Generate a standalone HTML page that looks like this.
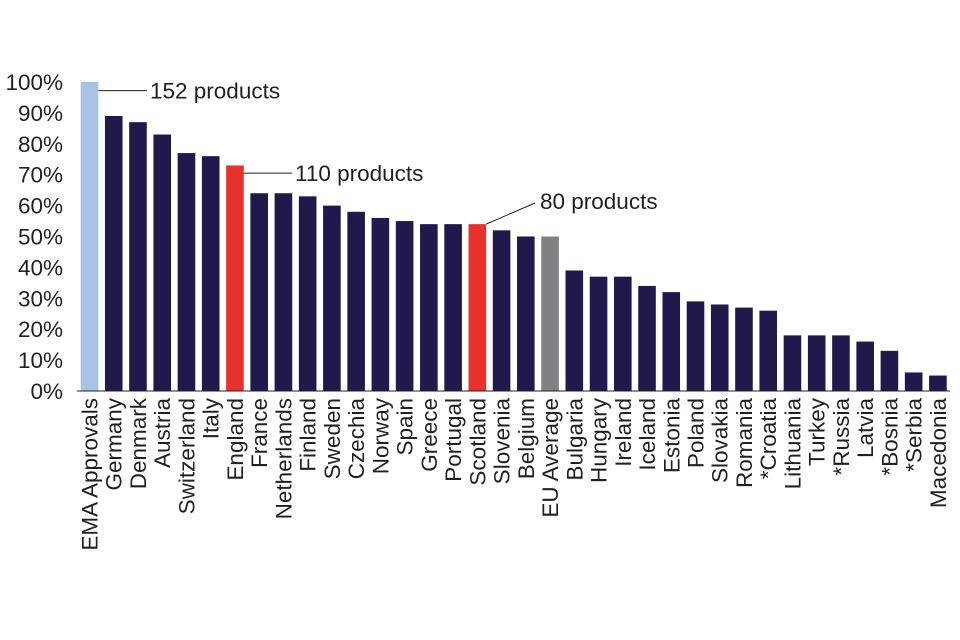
<!DOCTYPE html>
<html><head><meta charset="utf-8"><style>
html,body{margin:0;padding:0;background:#fff}
svg{display:block;font-family:"Liberation Sans",Arial,sans-serif}
</style></head><body>
<svg id="chart" width="960" height="640" viewBox="0 0 960 640"></svg>
<script>
const categories=["EMA Approvals","Germany","Denmark","Austria","Switzerland","Italy","England","France","Netherlands","Finland","Sweden","Czechia","Norway","Spain","Greece","Portugal","Scotland","Slovenia","Belgium","EU Average","Bulgaria","Hungary","Ireland","Iceland","Estonia","Poland","Slovakia","Romania","*Croatia","Lithuania","Turkey","*Russia","Latvia","*Bosnia","*Serbia","Macedonia"];
const values=[100,89,87,83,77,76,73,64,64,63,60,58,56,55,54,54,54,52,50,50,39,37,37,34,32,29,28,27,26,18,18,18,16,13,6,5];
const tickLabels=["0%","10%","20%","30%","40%","50%","60%","70%","80%","90%","100%"];
const tickValues=[0,10,20,30,40,50,60,70,80,90,100];
const colors={"EMA Approvals":"#a7c3e3","England":"#e8312a","Scotland":"#e8312a","EU Average":"#7f8283"};
const NS="http://www.w3.org/2000/svg";
const svg=document.getElementById('chart');
const y0=391,ppu=3.09,x0=80.7,step=24.24,bw=17.6;
const y=v=>y0-v*ppu, x=i=>x0+i*step;
function mk(t,a){const e=document.createElementNS(NS,t);for(const k in a)e.setAttribute(k,a[k]);svg.appendChild(e);return e;}
tickValues.forEach((v,i)=>{
 const t=mk('text',{x:63,y:y(v)+8,'text-anchor':'end','font-size':22.5,fill:'#231f20'});
 t.textContent=tickLabels[i];
 
 
});
categories.forEach((c,i)=>{
 const r=mk('rect',{x:x(i),y:y(values[i]),width:bw,height:values[i]*ppu,fill:colors[c]||'#1f1a4b'});
 
 
 const cx=x(i)+bw/2+8;
 const t=mk('text',{x:cx,y:398,'text-anchor':'end','font-size':22.5,fill:'#231f20',transform:`rotate(-90 ${cx} 398)`});
 t.textContent=c;
 
 
});
const ax=mk('line',{x1:77,x2:950,y1:y0,y2:y0,stroke:'#231f20','stroke-width':1});


function ann(lx1,ly1,lx2,ly2,tx,ty,txt,name){
 const l=mk('line',{x1:lx1,y1:ly1,x2:lx2,y2:ly2,stroke:'#231f20','stroke-width':1});
 
 
 const t=mk('text',{x:tx,y:ty,'font-size':22.5,fill:'#231f20'});
 t.textContent=txt;
 
 
}
ann(x(0)+bw,y(97.2),147,y(97.2),150,y(97.2)+8,'152 products','annotation-ema');
ann(x(6)+bw,y(70.5),292,y(70.5),295,y(70.5)+8,'110 products','annotation-england');
ann(x(16)+bw,y(54),535,203,540,209,'80 products','annotation-scotland');
</script>
</body></html>
